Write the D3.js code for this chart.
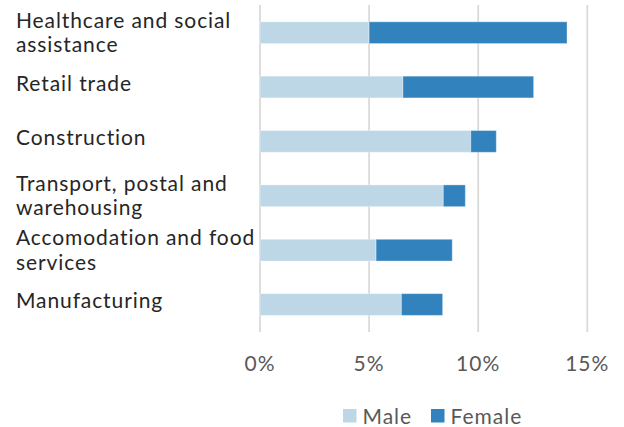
<!DOCTYPE html>
<html>
<head>
<meta charset="utf-8">
<script src="https://cdn.jsdelivr.net/npm/d3@7"></script>
<style>
  body { margin: 0; background: #fff; }
  text { font-family: Lato, "Open Sans", sans-serif; }
</style>
</head>
<body>
<div id="chart"></div>
<script>
/** Data **/
var categories = [
  ["Healthcare and social", "assistance"],
  ["Retail trade"],
  ["Construction"],
  ["Transport, postal and", "warehousing"],
  ["Accomodation and food", "services"],
  ["Manufacturing"]
];
var male   = [5.0, 6.55, 9.66, 8.4, 5.32, 6.48];
var female = [9.07, 5.99, 1.17, 1.01, 3.49, 1.89];
var series = ["Male", "Female"];
var colors = ["#bdd7e7", "#3182bd"];
var ticks  = [0, 5, 10, 15];

var width = 624, height = 427;

var svg = d3.select("#chart").append("svg")
            .attr("width", width)
            .attr("height", height);

var x = d3.scaleLinear().domain([0, 15]).range([260, 587.3]);
var y = d3.scaleBand()
          .domain(d3.range(categories.length))
          .range([5.5, 331.7])
          .paddingInner(0.6)
          .paddingOuter(0.3);

/** Gridlines **/
svg.append("g").selectAll("line")
   .data(ticks)
   .enter().append("line")
   .attr("x1", function(d) { return x(d); })
   .attr("x2", function(d) { return x(d); })
   .attr("y1", 5)
   .attr("y2", 332)
   .style("stroke", "#d9d9d9")
   .style("stroke-width", 1.75);

/** Tick labels **/
svg.append("g").selectAll("text")
   .data(ticks)
   .enter().append("text")
   .attr("x", function(d) { return x(d); })
   .attr("y", 371)
   .attr("text-anchor", "middle")
   .attr("font-size", 21)
   .style("letter-spacing", "1px")
   .style("fill", "#595959")
   .text(function(d) { return d + "%"; });

/** Stacked bars **/
var rows = categories.map(function(c, i) { return { i: i, Male: male[i], Female: female[i] }; });
var stack = d3.stack().keys(series)(rows);

svg.append("g").selectAll("g")
   .data(stack)
   .enter().append("g")
   .style("fill", function(d, i) { return colors[i]; })
   .selectAll("rect")
   .data(function(d) { return d; })
   .enter().append("rect")
   .attr("x", function(d) { return x(d[0]); })
   .attr("width", function(d) { return x(d[1]) - x(d[0]); })
   .attr("y", function(d) { return y(d.data.i); })
   .attr("height", y.bandwidth())
   .style("stroke", "#ffffff")
   .style("stroke-opacity", 0.35)
   .style("stroke-width", 1);

/** Category labels **/
var labels = svg.append("g").selectAll("text")
   .data(categories)
   .enter().append("text")
   .attr("x", 16)
   .attr("font-size", 21)
   .style("letter-spacing", "0.9px")
   .style("fill", "#262626")
   .attr("y", function(d, i) {
     var c = y(i) + y.bandwidth() / 2;
     return d.length > 1 ? c - 5 : c + 3.5;
   });

labels.selectAll("tspan")
   .data(function(d) { return d; })
   .enter().append("tspan")
   .attr("x", 16)
   .attr("dy", function(d, j) { return j === 0 ? 0 : 24.7; })
   .text(function(d) { return d; });

/** Legend **/
var legendX = [343, 431];
var legend = svg.append("g").selectAll("g")
   .data(series)
   .enter().append("g")
   .attr("transform", function(d, i) { return "translate(" + legendX[i] + ",409)"; });

legend.append("rect")
   .attr("width", 13.5)
   .attr("height", 13.5)
   .style("fill", function(d, i) { return colors[i]; });

legend.append("text")
   .attr("x", 19.5)
   .attr("y", 14.5)
   .attr("font-size", 21)
   .style("letter-spacing", "1px")
   .style("fill", "#595959")
   .text(function(d) { return d; });
</script>
</body>
</html>
